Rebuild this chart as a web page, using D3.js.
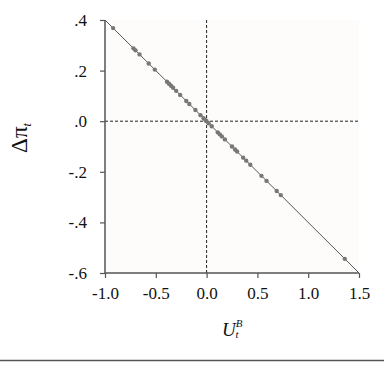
<!DOCTYPE html>
<html>
<head>
<meta charset="utf-8">
<script src="https://cdn.jsdelivr.net/npm/d3@7"></script>
<style>
  body { margin: 0; background: #fff; }
  svg { display: block; font-family: "Liberation Serif", "DejaVu Serif", serif; }
</style>
</head>
<body>
<svg id="svg" width="384" height="367"></svg>
<script>
// observations U_t^B vs change in inflation
var xVals = [-0.92, -0.72, -0.70, -0.66, -0.57, -0.51, -0.39, -0.37, -0.35, -0.33, -0.30,
             -0.26, -0.20, -0.17, -0.11, -0.06, -0.03, -0.01, 0.0, 0.02, 0.05, 0.11, 0.13,
             0.15, 0.18, 0.25, 0.28, 0.30, 0.36, 0.39, 0.43, 0.54, 0.59, 0.69, 0.73, 1.36];
var yVals = [0.368, 0.288, 0.280, 0.264, 0.228, 0.204, 0.156, 0.148, 0.140, 0.132, 0.120,
             0.104, 0.080, 0.068, 0.044, 0.024, 0.012, 0.004, 0.0, -0.008, -0.020, -0.044, -0.052,
             -0.060, -0.072, -0.100, -0.112, -0.120, -0.144, -0.156, -0.172, -0.216, -0.236, -0.276, -0.292, -0.544];
// fitted line endpoints
var fitX = [-1.0, 1.5];
var fitY = [0.4, -0.6];

var xTicks = [-1.0, -0.5, 0.0, 0.5, 1.0, 1.5];
var xTickLabels = ["-1.0", "-0.5", "0.0", "0.5", "1.0", "1.5"];
var yTicks = [0.4, 0.2, 0.0, -0.2, -0.4, -0.6];
var yTickLabels = [".4", ".2", ".0", "-.2", "-.4", "-.6"];

var svg = d3.select("#svg");
var mLeft = 105, mRight = 359, mTop = 20, mBottom = 273;

var x = d3.scaleLinear().domain([-1, 1.5]).range([mLeft, mRight]);
var y = d3.scaleLinear().domain([-0.6, 0.4]).range([mBottom, mTop]);

// plot background
svg.append("rect")
  .attr("x", mLeft).attr("y", mTop)
  .attr("width", mRight - mLeft).attr("height", mBottom - mTop)
  .attr("fill", "#fdfcfa");

// reference lines
svg.append("line")
  .attr("x1", x(0)).attr("x2", x(0))
  .attr("y1", mTop).attr("y2", mBottom)
  .attr("stroke", "#222").attr("stroke-width", 1)
  .attr("stroke-dasharray", "3,2");
svg.append("line")
  .attr("x1", mLeft).attr("x2", mRight)
  .attr("y1", y(0)).attr("y2", y(0))
  .attr("stroke", "#222").attr("stroke-width", 1)
  .attr("stroke-dasharray", "3,2");

// fit line
svg.append("line")
  .attr("x1", x(fitX[0])).attr("y1", y(fitY[0]))
  .attr("x2", x(fitX[1])).attr("y2", y(fitY[1]))
  .attr("stroke", "#555").attr("stroke-width", 1);

// points
svg.append("g").selectAll("circle")
  .data(xVals)
  .enter().append("circle")
  .attr("cx", function(d) { return x(d); })
  .attr("cy", function(d, i) { return y(yVals[i]); })
  .attr("r", 2.2)
  .attr("fill", "#777");

// axes
var xAxis = svg.append("g")
  .attr("transform", "translate(0," + mBottom + ")")
  .call(d3.axisBottom(x).tickValues(xTicks).tickSize(5).tickPadding(9)
    .tickFormat(function(d, i) { return xTickLabels[i]; }));
var yAxis = svg.append("g")
  .attr("transform", "translate(" + mLeft + ",0)")
  .call(d3.axisLeft(y).tickValues(yTicks).tickSize(5).tickPadding(13)
    .tickFormat(function(d, i) { return yTickLabels[i]; }));

[xAxis, yAxis].forEach(function(a) {
  a.attr("font-family", null);
  a.select(".domain").attr("stroke", "#555").attr("stroke-width", 1.5);
  a.selectAll(".tick line").attr("stroke", "#555").attr("stroke-width", 1.2);
  a.selectAll(".tick text")
    .attr("fill", "#111")
    .style("font-family", "'Liberation Serif', serif")
    .style("font-size", "17px");
});
xAxis.select(".domain").attr("d", "M" + mLeft + ",0H" + mRight);
yAxis.select(".domain").attr("d", "M0," + mTop + "V" + mBottom);

// axis titles
var yl = svg.append("text")
  .attr("transform", "translate(27,138) rotate(-90)")
  .attr("text-anchor", "middle")
  .attr("fill", "#111")
  .style("font-size", "23px");
yl.append("tspan").text("Δπ");
yl.append("tspan").attr("dy", 4).style("font-size", "12px").style("font-style", "italic").text("t");

var xl = svg.append("text")
  .attr("x", 222).attr("y", 336)
  .attr("fill", "#111")
  .style("font-size", "19px")
  .style("font-style", "italic");
xl.append("tspan").text("U");
xl.append("tspan").attr("dx", 0).attr("dy", -9).style("font-size", "11px").text("B");
xl.append("tspan").attr("dx", -7).attr("dy", 11).style("font-size", "11px").text("t");

// bottom rule
svg.append("line")
  .attr("x1", 0).attr("x2", 384)
  .attr("y1", 360.5).attr("y2", 360.5)
  .attr("stroke", "#555").attr("stroke-width", 1.5);
</script>
</body>
</html>
